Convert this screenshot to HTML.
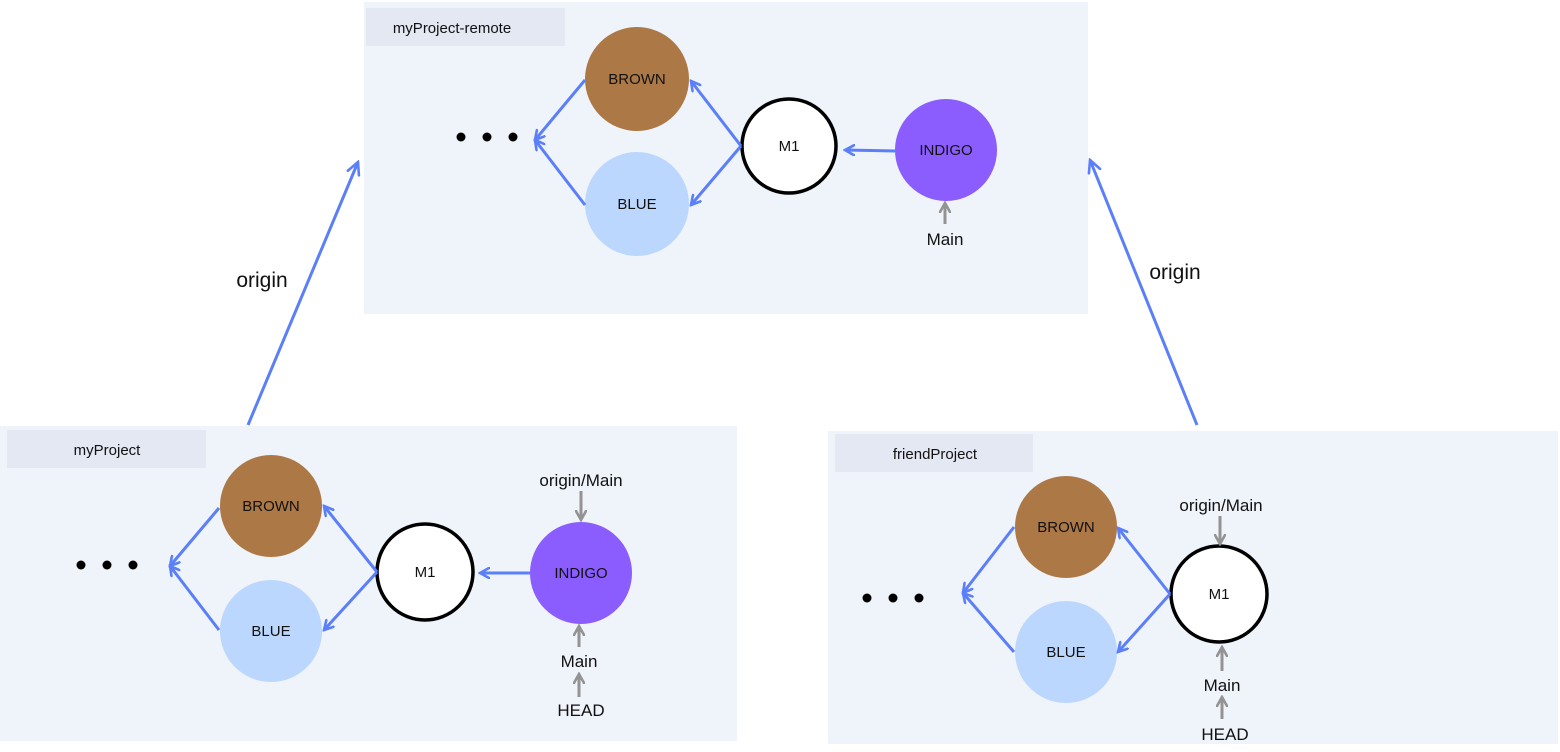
<!DOCTYPE html>
<html><head><meta charset="utf-8"><style>
html,body{margin:0;padding:0;background:#fff;}
svg{display:block;}
text{font-family:"Liberation Sans",sans-serif;}
</style></head><body>
<svg width="1560" height="752" viewBox="0 0 1560 752" xmlns="http://www.w3.org/2000/svg">
<defs>
<marker id="b" viewBox="0 0 12 12" refX="10" refY="6" markerWidth="12" markerHeight="12" markerUnits="userSpaceOnUse" orient="auto">
<polyline points="1,1 10,6 1,11" fill="none" stroke="#5b7ff9" stroke-width="2.6" stroke-linecap="round"/>
</marker>
<marker id="bl" viewBox="0 0 16 16" refX="14" refY="8" markerWidth="16" markerHeight="16" markerUnits="userSpaceOnUse" orient="auto">
<polyline points="2,2 14,8 2,14" fill="none" stroke="#5b7ff9" stroke-width="2.6" stroke-linecap="round"/>
</marker>
<marker id="g" viewBox="0 0 12 12" refX="10" refY="6" markerWidth="12" markerHeight="12" markerUnits="userSpaceOnUse" orient="auto">
<polyline points="1,1 10,6 1,11" fill="none" stroke="#939393" stroke-width="2.6" stroke-linecap="round"/>
</marker>
</defs>
<g fill="#eff3fa">
<rect x="364" y="2" width="724" height="312"/>
<rect x="0" y="426" width="737" height="315"/>
<rect x="828" y="431" width="730" height="313"/>
</g>
<g fill="#e3e8f3">
<rect x="366" y="8" width="199" height="38"/>
<rect x="7" y="430" width="199" height="38"/>
<rect x="835" y="434" width="198" height="38"/>
</g>
<g font-size="15" fill="#111" text-anchor="middle">
<text x="452" y="33">myProject-remote</text>
<text x="107" y="455">myProject</text>
<text x="935" y="459">friendProject</text>
</g>
<!-- origin arrows -->
<g stroke="#5b7ff9" stroke-width="3" fill="none">
<line x1="248" y1="425" x2="358" y2="162" marker-end="url(#bl)"/>
<line x1="1197" y1="425" x2="1090" y2="160" marker-end="url(#bl)"/>
</g>
<g font-size="21" fill="#111" text-anchor="middle">
<text x="262" y="287">origin</text>
<text x="1175" y="279">origin</text>
</g>
<!-- nodes -->
<g>
<circle cx="637" cy="79" r="52" fill="#ac7846"/>
<circle cx="637" cy="204" r="52" fill="#bcd7fd"/>
<circle cx="789" cy="146" r="47" fill="#fff" stroke="#000" stroke-width="3.5"/>
<circle cx="946" cy="150" r="51" fill="#8b5cfe"/>
<circle cx="271" cy="506" r="51" fill="#ac7846"/>
<circle cx="271" cy="631" r="51" fill="#bcd7fd"/>
<circle cx="425" cy="572" r="48" fill="#fff" stroke="#000" stroke-width="3.5"/>
<circle cx="581" cy="573" r="51" fill="#8b5cfe"/>
<circle cx="1066" cy="527" r="51" fill="#ac7846"/>
<circle cx="1066" cy="652" r="51" fill="#bcd7fd"/>
<circle cx="1219" cy="594" r="48" fill="#fff" stroke="#000" stroke-width="3.5"/>
</g>
<g font-size="15" fill="#111" text-anchor="middle">
<text x="637" y="84">BROWN</text>
<text x="637" y="209">BLUE</text>
<text x="789" y="151">M1</text>
<text x="946" y="155">INDIGO</text>
<text x="271" y="511">BROWN</text>
<text x="271" y="636">BLUE</text>
<text x="425" y="577">M1</text>
<text x="581" y="578">INDIGO</text>
<text x="1066" y="532">BROWN</text>
<text x="1066" y="657">BLUE</text>
<text x="1219" y="599">M1</text>
</g>
<!-- dots -->
<g fill="#000">
<circle cx="461" cy="137" r="4.5"/><circle cx="487" cy="137" r="4.5"/><circle cx="513" cy="137" r="4.5"/>
<circle cx="81" cy="565" r="4.5"/><circle cx="107" cy="565" r="4.5"/><circle cx="133" cy="565" r="4.5"/>
<circle cx="867" cy="598" r="4.5"/><circle cx="893" cy="598" r="4.5"/><circle cx="919" cy="598" r="4.5"/>
</g>
<!-- blue commit arrows -->
<g stroke="#5b7ff9" stroke-width="3" fill="none">
<line x1="585" y1="80" x2="535" y2="140" marker-end="url(#b)"/>
<line x1="585" y1="205" x2="535" y2="140" marker-end="url(#b)"/>
<line x1="741" y1="146" x2="691" y2="81" marker-end="url(#b)"/>
<line x1="741" y1="146" x2="691" y2="205" marker-end="url(#b)"/>
<line x1="895" y1="151" x2="845" y2="150" marker-end="url(#b)"/>
<line x1="219" y1="508" x2="170" y2="566" marker-end="url(#b)"/>
<line x1="219" y1="630" x2="170" y2="566" marker-end="url(#b)"/>
<line x1="377" y1="572" x2="324" y2="506" marker-end="url(#b)"/>
<line x1="377" y1="572" x2="324" y2="630" marker-end="url(#b)"/>
<line x1="530" y1="573" x2="480" y2="573" marker-end="url(#b)"/>
<line x1="1014" y1="527" x2="963" y2="593" marker-end="url(#b)"/>
<line x1="1014" y1="652" x2="963" y2="593" marker-end="url(#b)"/>
<line x1="1170" y1="594" x2="1118" y2="528" marker-end="url(#b)"/>
<line x1="1170" y1="594" x2="1118" y2="652" marker-end="url(#b)"/>
</g>
<!-- gray arrows -->
<g stroke="#939393" stroke-width="3" fill="none">
<line x1="945" y1="224" x2="945" y2="203" marker-end="url(#g)"/>
<line x1="581" y1="491" x2="581" y2="520" marker-end="url(#g)"/>
<line x1="579" y1="647" x2="579" y2="626" marker-end="url(#g)"/>
<line x1="579" y1="697" x2="579" y2="674" marker-end="url(#g)"/>
<line x1="1220" y1="516" x2="1220" y2="544" marker-end="url(#g)"/>
<line x1="1222" y1="671" x2="1222" y2="647" marker-end="url(#g)"/>
<line x1="1222" y1="719" x2="1222" y2="697" marker-end="url(#g)"/>
</g>
<g font-size="17" fill="#111" text-anchor="middle">
<text x="945" y="245">Main</text>
<text x="581" y="486">origin/Main</text>
<text x="579" y="667">Main</text>
<text x="581" y="716">HEAD</text>
<text x="1221" y="511">origin/Main</text>
<text x="1222" y="691">Main</text>
<text x="1225" y="740">HEAD</text>
</g>
</svg>
</body></html>
